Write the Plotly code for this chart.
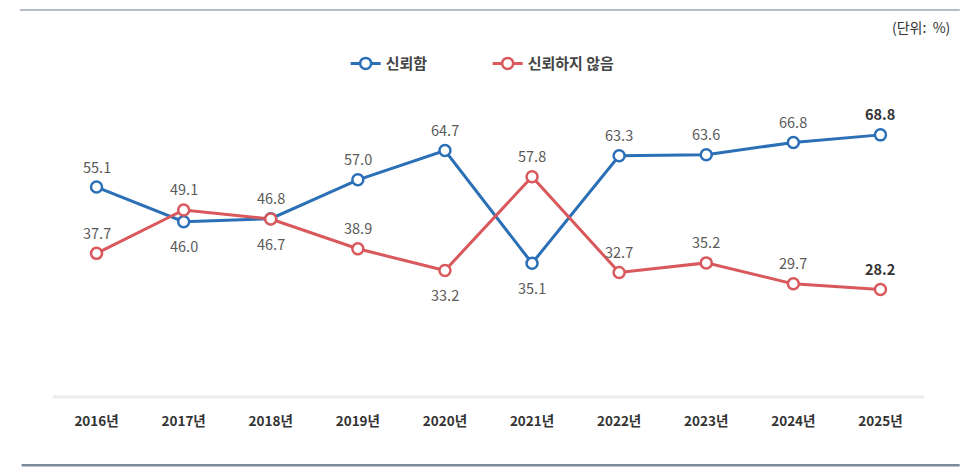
import plotly.graph_objects as go

# 연도별 신뢰도 (단위: %)
years = ['2016년', '2017년', '2018년', '2019년', '2020년',
         '2021년', '2022년', '2023년', '2024년', '2025년']
trust = [55.1, 46.0, 46.8, 57.0, 64.7, 35.1, 63.3, 63.6, 66.8, 68.8]
distrust = [37.7, 49.1, 46.7, 38.9, 33.2, 57.8, 32.7, 35.2, 29.7, 28.2]

# label above (+1) or below (-1) each point
trust_pos = [1, -1, 1, 1, 1, -1, 1, 1, 1, 1]
distrust_pos = [1, 1, -1, 1, -1, 1, 1, 1, 1, 1]

blue = '#2b6fb6'
red = '#d9585c'
font_kr = 'Noto Sans CJK KR'

fig = go.Figure()

fig.add_trace(go.Scatter(
    x=years, y=trust, name='신뢰함', mode='lines+markers',
    line=dict(color=blue, width=3),
    marker=dict(symbol='circle', size=11, color='white', line=dict(color=blue, width=2.5)),
))
fig.add_trace(go.Scatter(
    x=years, y=distrust, name='신뢰하지 않음', mode='lines+markers',
    line=dict(color=red, width=3),
    marker=dict(symbol='circle', size=11, color='white', line=dict(color=red, width=2.5)),
))

# data labels
annotations = []
for vals, pos in [(trust, trust_pos), (distrust, distrust_pos)]:
    for i, (yr, v) in enumerate(zip(years, vals)):
        last = i == len(years) - 1
        txt = f'<b>{v:.1f}</b>' if last else f'{v:.1f}'
        annotations.append(dict(
            x=yr, y=v, text=txt, showarrow=False,
            yshift=21 if pos[i] > 0 else -24,
            font=dict(family=font_kr, size=14.5, color='#333333' if last else '#5a5a5a'),
        ))

annotations.append(dict(
    xref='paper', yref='paper', x=1.032, y=0.972, xanchor='right', yanchor='middle',
    text='(단위:  %)', showarrow=False,
    font=dict(family=font_kr, size=14, color='#333333'),
))

# page body adds ~8px offset, so the figure is a bit smaller than the window
fig.update_layout(
    width=971, height=467,
    margin=dict(l=45, r=55, t=8, b=78),
    paper_bgcolor='white', plot_bgcolor='white',
    showlegend=True,
    legend=dict(
        orientation='h', x=0.336, y=0.875, xanchor='left', yanchor='middle',
        font=dict(family=font_kr, size=15, color='#444444', weight='bold'),
        itemwidth=30, entrywidth=97, bgcolor='rgba(0,0,0,0)',
    ),
    xaxis=dict(
        type='category', range=[-0.5, 9.5],
        showgrid=False, zeroline=False, showline=False, ticks='',
        tickfont=dict(family=font_kr, size=13.5, color='#333333', weight='bold'),
        ticklabelstandoff=14,
    ),
    yaxis=dict(
        range=[0, 100], visible=False, showgrid=False, zeroline=False,
    ),
    annotations=annotations,
    shapes=[
        # baseline
        dict(type='line', xref='paper', yref='paper', x0=0, x1=1, y0=0, y1=0,
             line=dict(color='#ebebeb', width=3)),
        # top border
        dict(type='line', xref='paper', yref='paper', x0=-0.038, x1=1.041, y0=1.016, y1=1.016,
             line=dict(color='#b4bcc8', width=2)),
        # bottom border
        dict(type='line', xref='paper', yref='paper', x0=-0.036, x1=1.041, y0=-0.179, y1=-0.179,
             line=dict(color='#7d8a9a', width=2.5)),
    ],
)

fig.write_html('out.html')
